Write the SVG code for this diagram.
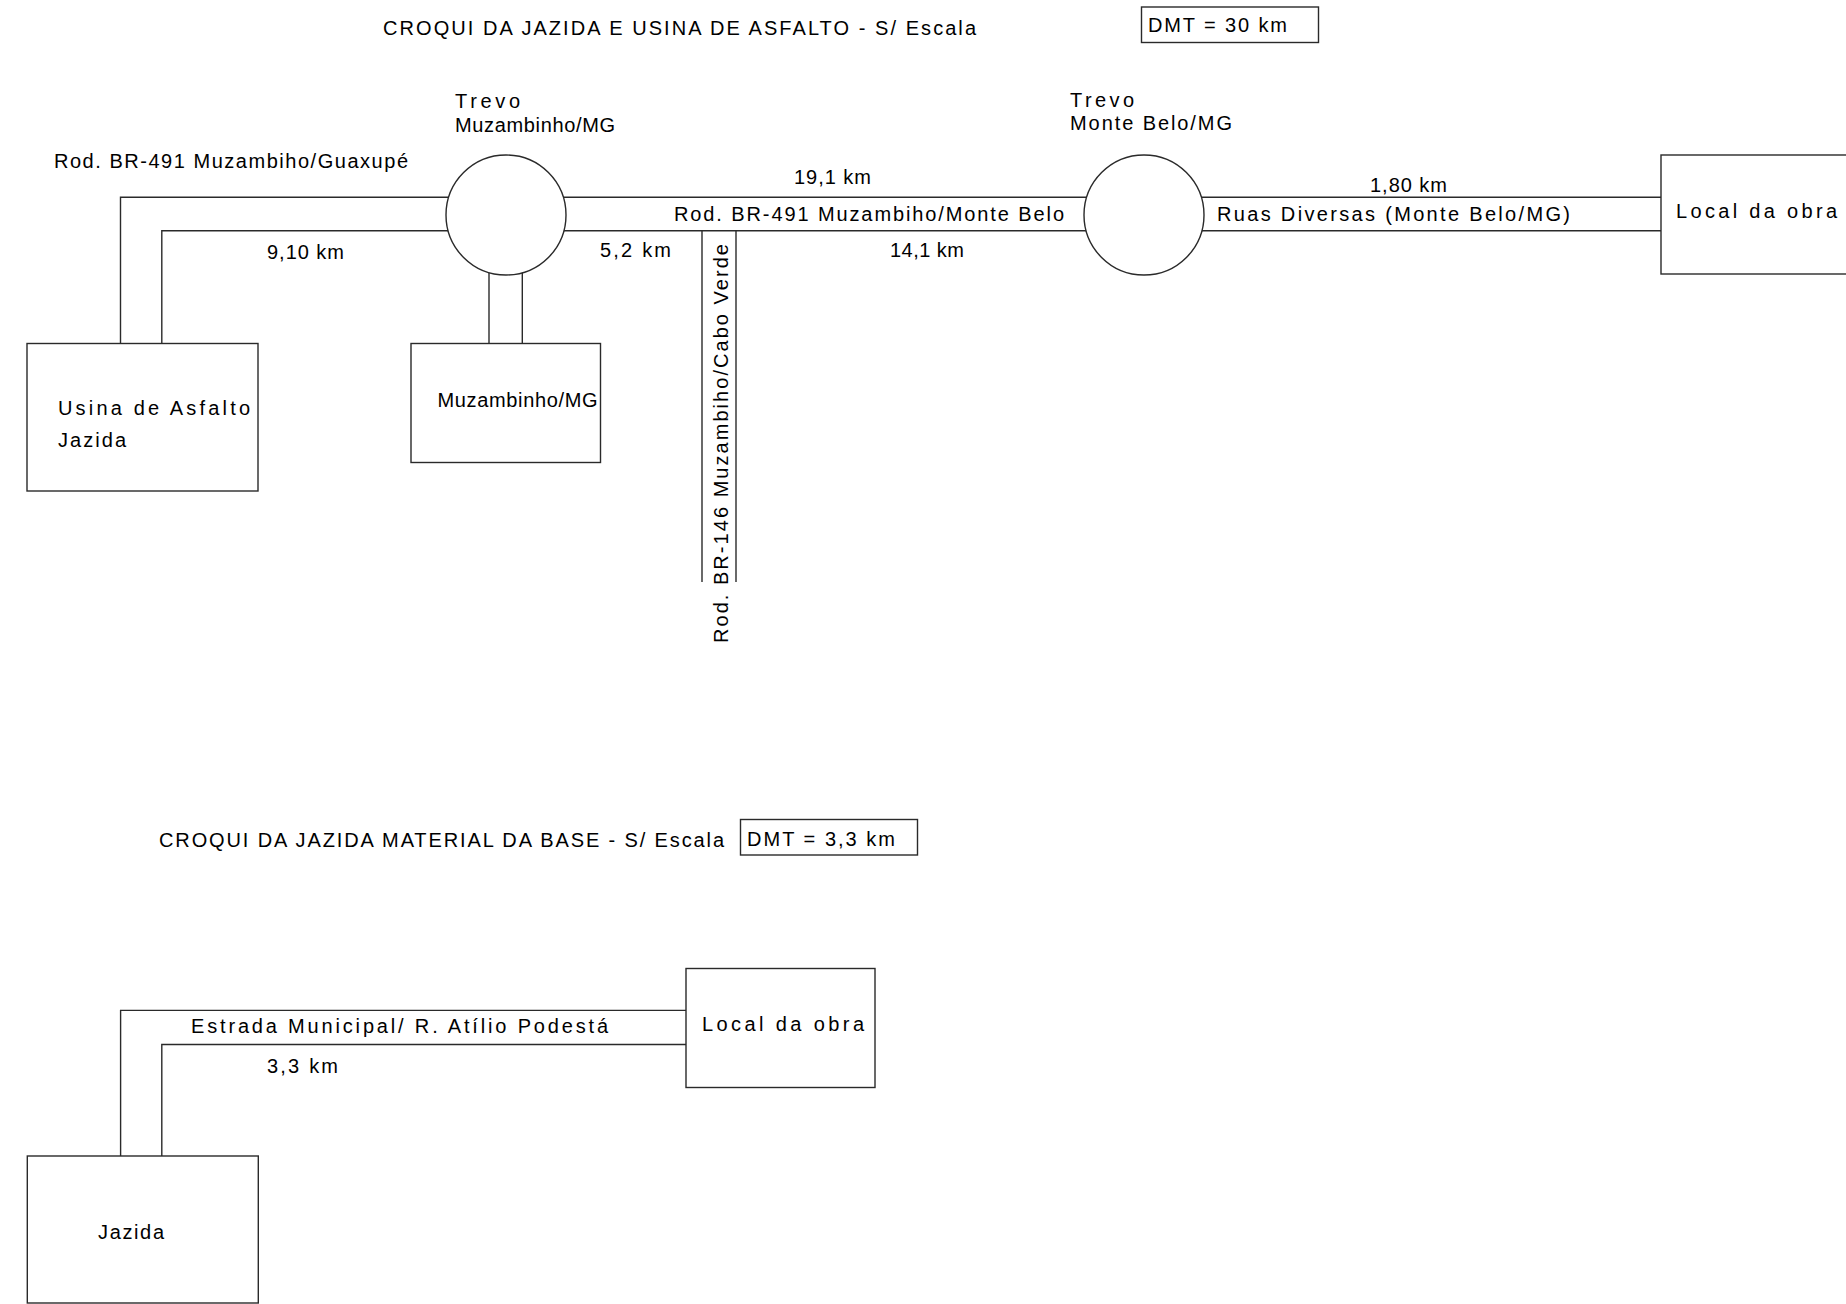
<svg xmlns="http://www.w3.org/2000/svg" width="1846" height="1304" viewBox="0 0 1846 1304">
<style>
.bg{fill:#ffffff}
.ln{stroke:#2a2a2a;stroke-width:1.4;fill:none}
.box{stroke:#2a2a2a;stroke-width:1.4;fill:#ffffff}
.t{font-family:"Liberation Sans",Arial,sans-serif;font-size:20px;fill:#000000}
</style>
<rect class="bg" x="0" y="0" width="1846" height="1304"/>

<g id="titles">
  <text class="t" x="383" y="35" textLength="593" lengthAdjust="spacing">CROQUI DA JAZIDA E USINA DE ASFALTO - S/ Escala</text>
  <text class="t" x="159" y="847" textLength="565" lengthAdjust="spacing">CROQUI DA JAZIDA MATERIAL DA BASE - S/ Escala</text>
</g>

<g id="dmt1">
  <rect class="box" x="1141.5" y="7" width="177" height="35.5"/>
  <text class="t" x="1148" y="32" textLength="139" lengthAdjust="spacing">DMT = 30 km</text>
</g>
<g id="dmt2">
  <rect class="box" x="740.5" y="819.5" width="177" height="35.5"/>
  <text class="t" x="747" y="846" textLength="148" lengthAdjust="spacing">DMT = 3,3 km</text>
</g>

<g id="connectors">
  <path class="ln" d="M120.5,343.5 V197.3 H506"/>
  <path class="ln" d="M161.8,343.5 V230.7 H506"/>
  <path class="ln" d="M506,197.3 H1144"/>
  <path class="ln" d="M506,230.7 H1144"/>
  <path class="ln" d="M1144,197.3 H1661"/>
  <path class="ln" d="M1144,230.7 H1661"/>
  <path class="ln" d="M489,250 V343.5"/>
  <path class="ln" d="M522.3,250 V343.5"/>
  <path class="ln" d="M702,230.7 V582"/>
  <path class="ln" d="M736,230.7 V582"/>
  <path class="ln" d="M120.6,1156 V1010.4 H686"/>
  <path class="ln" d="M161.8,1156 V1044.5 H686"/>
</g>

<g id="road-labels">
  <text class="t" x="54" y="168" textLength="354" lengthAdjust="spacing">Rod. BR-491 Muzambiho/Guaxupé</text>
  <text class="t" x="267" y="259" textLength="77" lengthAdjust="spacing">9,10 km</text>
  <text class="t" x="600" y="257" textLength="71" lengthAdjust="spacing">5,2 km</text>
  <text class="t" x="794" y="184" textLength="77" lengthAdjust="spacing">19,1 km</text>
  <text class="t" x="674" y="221" textLength="390" lengthAdjust="spacing">Rod. BR-491 Muzambiho/Monte Belo</text>
  <text class="t" x="890" y="257" textLength="74" lengthAdjust="spacing">14,1 km</text>
  <text class="t" x="1370" y="192" textLength="77" lengthAdjust="spacing">1,80 km</text>
  <text class="t" x="1217" y="221" textLength="353" lengthAdjust="spacing">Ruas Diversas (Monte Belo/MG)</text>
  <text class="t" transform="translate(728,643) rotate(-90)" x="0" y="0" textLength="399" lengthAdjust="spacing">Rod. BR-146 Muzambiho/Cabo Verde</text>
  <text class="t" x="191" y="1033" textLength="417" lengthAdjust="spacing">Estrada Municipal/ R. Atílio Podestá</text>
  <text class="t" x="267" y="1073" textLength="71" lengthAdjust="spacing">3,3 km</text>
</g>

<g id="trevo-muzambinho">
  <circle class="box" cx="506" cy="215" r="60"/>
  <text class="t" x="455" y="108" textLength="65" lengthAdjust="spacing">Trevo</text>
  <text class="t" x="455" y="132" textLength="160" lengthAdjust="spacing">Muzambinho/MG</text>
</g>

<g id="trevo-monte-belo">
  <circle class="box" cx="1144" cy="215" r="60"/>
  <text class="t" x="1070" y="107" textLength="64" lengthAdjust="spacing">Trevo</text>
  <text class="t" x="1070" y="130" textLength="162" lengthAdjust="spacing">Monte Belo/MG</text>
</g>

<g id="usina-jazida">
  <rect class="box" x="27" y="343.5" width="231" height="147.5"/>
  <text class="t" x="58" y="415" textLength="192" lengthAdjust="spacing">Usina de Asfalto</text>
  <text class="t" x="58" y="447" textLength="68" lengthAdjust="spacing">Jazida</text>
</g>

<g id="muzambinho">
  <rect class="box" x="411" y="343.5" width="189.5" height="119"/>
  <text class="t" x="437.5" y="407" textLength="160" lengthAdjust="spacing">Muzambinho/MG</text>
</g>

<g id="local-obra-1">
  <rect class="box" x="1661" y="155" width="220" height="119"/>
  <text class="t" x="1676" y="218" textLength="161" lengthAdjust="spacing">Local da obra</text>
</g>

<g id="local-obra-2">
  <rect class="box" x="686" y="968.5" width="189" height="119"/>
  <text class="t" x="702" y="1031" textLength="162" lengthAdjust="spacing">Local da obra</text>
</g>

<g id="jazida-2">
  <rect class="box" x="27.3" y="1156" width="231" height="147"/>
  <text class="t" x="98" y="1239" textLength="66" lengthAdjust="spacing">Jazida</text>
</g>
</svg>
